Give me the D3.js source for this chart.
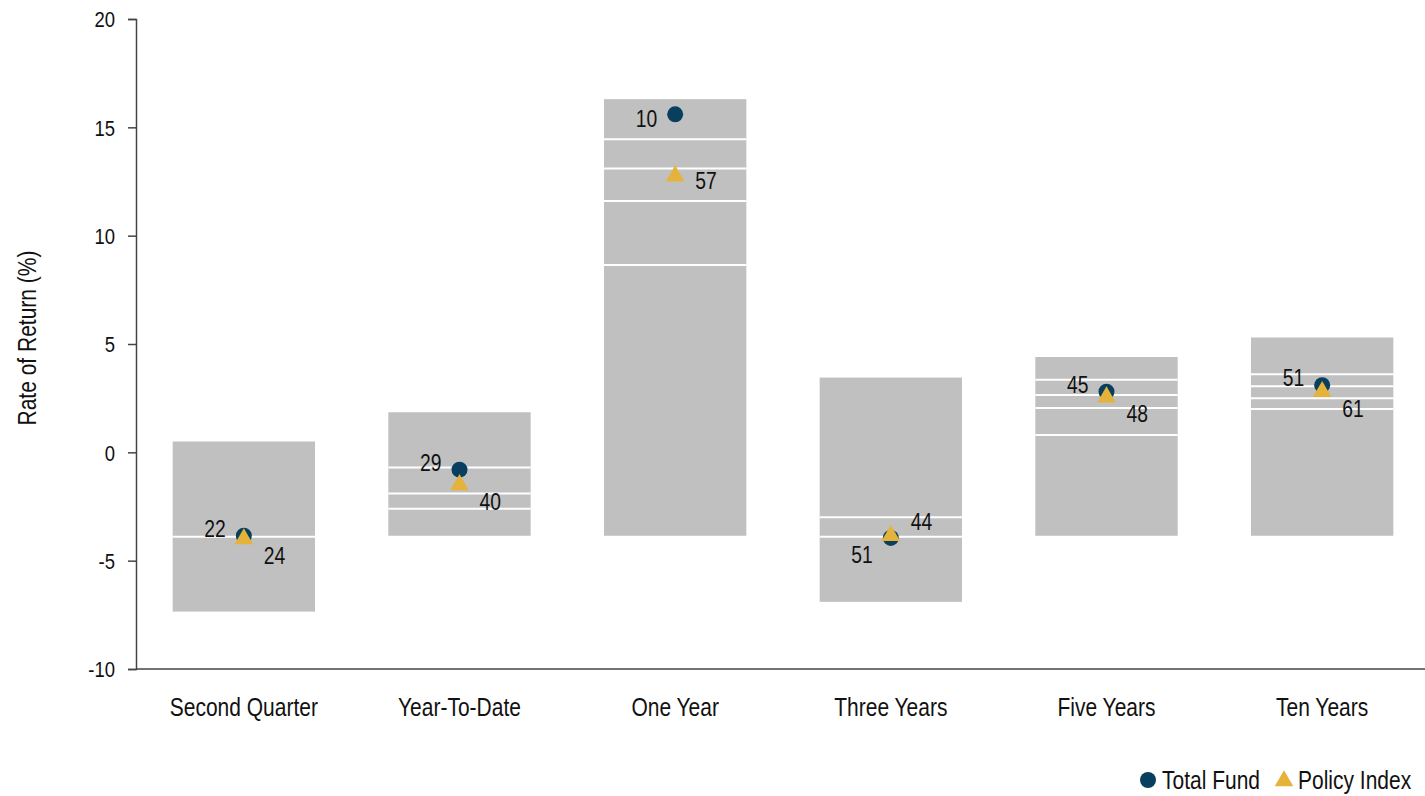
<!DOCTYPE html>
<html>
<head>
<meta charset="utf-8">
<script src="https://cdn.jsdelivr.net/npm/d3@7"></script>
<style>
  html, body { margin: 0; padding: 0; background: #ffffff; }
  svg { display: block; font-family: "Liberation Sans", Arial, sans-serif; }
</style>
</head>
<body>
<svg id="chart" width="1425" height="796"></svg>
<script>
// Peer universe ranges (5th to 95th percentile) and interior percentile lines
const categories = ["Second Quarter", "Year-To-Date", "One Year", "Three Years", "Five Years", "Ten Years"];
const rangeHigh = [0.5, 1.85, 16.3, 3.45, 4.4, 5.3];
const rangeLow = [-7.35, -3.85, -3.85, -6.9, -3.85, -3.85];
const percentileLines = [
  [-3.9],
  [-0.7, -1.9, -2.6],
  [14.45, 13.1, 11.6, 8.65],
  [-3.0, -3.9],
  [3.35, 2.65, 2.05, 0.8],
  [3.6, 3.05, 2.5, 2.0]
];

// Returns and peer ranks
const totalFund = [-3.85, -0.8, 15.6, -3.95, 2.8, 3.1];
const policyIndex = [-4.0, -1.5, 12.75, -3.85, 2.55, 2.8];
const fundRank = [22, 29, 10, 51, 45, 51];
const policyRank = [24, 40, 57, 44, 48, 61];

const yTicks = [-10, -5, 0, 5, 10, 15, 20];

const fundColor = "#083f5e";
const policyColor = "#e5b23a";
const boxColor = "#c0c0c0";
const axisColor = "#444444";
const textColor = "#111111";

// Condensed look: glyphs squeezed horizontally
const NARROW = 0.84;
function placeNarrow(sel, fx, fy, extra = "") {
  sel.attr("transform", (d, i) => `translate(${fx(d, i)},${fy(d, i)}) ${extra} scale(${NARROW},1)`)
    .attr("x", 0).attr("y", 0);
  return sel;
}

const svg = d3.select("#chart");

const x = d3.scaleBand()
  .domain(categories)
  .range([136, 1430])
  .paddingInner(0.34)
  .paddingOuter(0.17);

const y = d3.scaleLinear().domain([-10, 20]).range([669, 19]);

const rows = categories.map((c, i) => ({
  cat: c,
  hi: rangeHigh[i],
  lo: rangeLow[i],
  lines: percentileLines[i],
  fund: totalFund[i],
  policy: policyIndex[i],
  fRank: fundRank[i],
  pRank: policyRank[i]
}));

// Range boxes
const g = svg.append("g");
g.selectAll("rect.range")
  .data(rows)
  .join("rect")
  .attr("class", "range")
  .attr("x", d => x(d.cat))
  .attr("width", x.bandwidth())
  .attr("y", d => y(d.hi))
  .attr("height", d => y(d.lo) - y(d.hi))
  .attr("fill", boxColor);

// Percentile lines inside the boxes
g.selectAll("g.lines")
  .data(rows)
  .join("g")
  .attr("class", "lines")
  .selectAll("line")
  .data(d => d.lines.map(v => ({ cat: d.cat, v })))
  .join("line")
  .attr("x1", d => x(d.cat))
  .attr("x2", d => x(d.cat) + x.bandwidth())
  .attr("y1", d => y(d.v))
  .attr("y2", d => y(d.v))
  .attr("stroke", "#ffffff")
  .attr("stroke-width", 2);

// Axes
const yAxis = d3.axisLeft(y).tickValues(yTicks).tickSize(8).tickFormat(d => String(d));
const ay = svg.append("g").attr("transform", "translate(136,0)").call(yAxis);
ay.select(".domain").attr("stroke", axisColor).attr("stroke-width", 1.5);
ay.selectAll(".tick line").attr("stroke", axisColor).attr("stroke-width", 1.5);
ay.selectAll(".tick text")
  .attr("fill", textColor)
  .attr("dy", "0.35em")
  .attr("text-anchor", "end")
  .style("font-size", "22px")
  .attr("x", 0)
  .attr("transform", `translate(-21,0) scale(${NARROW},1)`);

svg.append("line")
  .attr("x1", 136).attr("x2", 1425)
  .attr("y1", y(-10)).attr("y2", y(-10))
  .attr("stroke", axisColor).attr("stroke-width", 1.5);

svg.selectAll("text.cat")
  .data(categories)
  .join("text")
  .attr("class", "cat")
  .call(placeNarrow, d => x(d) + x.bandwidth() / 2, () => 716)
  .attr("text-anchor", "middle")
  .attr("fill", textColor)
  .style("font-size", "25px")
  .text(d => d);

svg.append("text")
  .datum("Rate of Return (%)")
  .call(placeNarrow, () => 36, () => 338, "rotate(-90)")
  .attr("text-anchor", "middle")
  .attr("fill", textColor)
  .style("font-size", "25px")
  .text(d => d);

// Markers
const cx = d => x(d.cat) + x.bandwidth() / 2;
const tri = d3.symbol().type(d3.symbolTriangle).size(150);

g.selectAll("circle.fund")
  .data(rows)
  .join("circle")
  .attr("class", "fund")
  .attr("cx", cx)
  .attr("cy", d => y(d.fund))
  .attr("r", 8)
  .attr("fill", fundColor);

g.selectAll("path.policy")
  .data(rows)
  .join("path")
  .attr("class", "policy")
  .attr("transform", d => `translate(${cx(d)},${y(d.policy)})`)
  .attr("d", tri)
  .attr("fill", policyColor);

// Rank labels: nudged apart when the two markers sit close together
function offsets(d) {
  const gap = Math.abs(y(d.fund) - y(d.policy));
  if (gap > 25) return { f: 5, p: 5 };
  return d.fund >= d.policy ? { f: -7, p: 17 } : { f: 17, p: -14 };
}

g.selectAll("text.frank")
  .data(rows)
  .join("text")
  .attr("class", "frank")
  .call(placeNarrow, d => cx(d) - 18, d => y(d.fund) + offsets(d).f)
  .attr("dy", "0.35em")
  .attr("text-anchor", "end")
  .attr("fill", textColor)
  .style("font-size", "23px")
  .text(d => d.fRank);

g.selectAll("text.prank")
  .data(rows)
  .join("text")
  .attr("class", "prank")
  .call(placeNarrow, d => cx(d) + 20, d => y(d.policy) + offsets(d).p)
  .attr("dy", "0.35em")
  .attr("text-anchor", "start")
  .attr("fill", textColor)
  .style("font-size", "23px")
  .text(d => d.pRank);

// Legend
const legendItems = ["Total Fund", "Policy Index"];
const legendMarkX = [1148, 1284];
const legend = svg.append("g").attr("transform", "translate(0,780)");
legend.append("circle").attr("cx", legendMarkX[0]).attr("cy", 0).attr("r", 8).attr("fill", fundColor);
legend.append("path").attr("transform", `translate(${legendMarkX[1]},1)`).attr("d", tri).attr("fill", policyColor);
legend.selectAll("text")
  .data(legendItems)
  .join("text")
  .call(placeNarrow, (d, i) => legendMarkX[i] + 14, () => 0)
  .attr("dy", "0.35em")
  .attr("fill", textColor)
  .style("font-size", "25px")
  .text(d => d);
</script>
</body>
</html>
